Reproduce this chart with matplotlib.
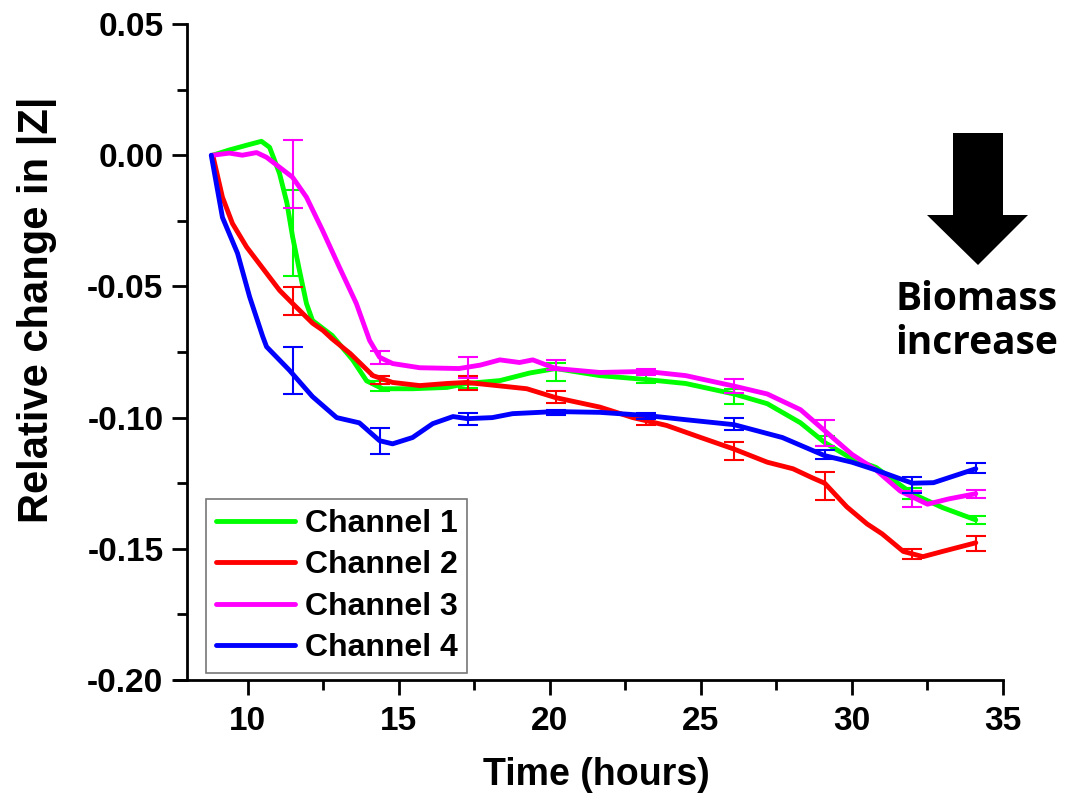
import numpy as np
import matplotlib.pyplot as plt
from matplotlib.patches import Polygon
from matplotlib.ticker import MultipleLocator, FuncFormatter

plt.rcParams["font.family"] = ["Liberation Sans", "DejaVu Sans"]
plt.rcParams["font.weight"] = "bold"
plt.rcParams["axes.unicode_minus"] = False

# Channel traces (time in hours, relative change in |Z|)
t1 = [8.85, 9.4, 9.97, 10.46, 10.73, 11.06, 11.3, 11.49, 11.72, 11.95, 12.15, 12.8,
      13.48, 13.94, 14.47, 15.46, 16.6, 17.25, 18.35, 19.34, 20.2, 21.66, 23.2, 24.5,
      26.1, 27.2, 28.3, 29.1, 30.0, 30.8, 32.0, 33.0, 34.1]
y1 = [0.0, 0.002, 0.0038, 0.0053, 0.003, -0.007, -0.018, -0.031, -0.044, -0.0565, -0.063,
      -0.0687, -0.078, -0.086, -0.089, -0.089, -0.0885, -0.087, -0.0859, -0.083, -0.0813,
      -0.084, -0.0855, -0.087, -0.091, -0.0947, -0.102, -0.1095, -0.1157, -0.119, -0.129,
      -0.1343, -0.139]

t2 = [8.85, 9.17, 9.5, 9.97, 10.63, 11.06, 11.49, 12.15, 12.5, 12.8, 13.4, 14.15, 14.8,
      15.7, 16.6, 17.25, 18.25, 19.24, 20.2, 21.66, 22.75, 23.87, 25.0, 26.1, 27.2, 28.05,
      28.7, 29.1, 29.83, 30.5, 31.0, 31.7, 32.35, 33.0, 34.1]
y2 = [0.0, -0.016, -0.026, -0.035, -0.045, -0.0515, -0.0565, -0.064, -0.0668, -0.070,
      -0.0756, -0.084, -0.0866, -0.0878, -0.087, -0.0866, -0.0878, -0.089, -0.0924, -0.096,
      -0.100, -0.103, -0.1076, -0.112, -0.117, -0.1195, -0.123, -0.125, -0.134, -0.1405,
      -0.1443, -0.151, -0.153, -0.151, -0.1477]

t3 = [8.85, 9.4, 9.83, 10.3, 10.63, 11.06, 11.49, 11.95, 12.48, 13.04, 13.6, 14.04, 14.37,
      14.8, 15.7, 17.0, 17.7, 18.35, 19.0, 19.44, 20.2, 21.66, 23.2, 24.5, 26.1, 27.2, 28.3,
      29.1, 30.0, 30.8, 31.6, 32.5, 33.2, 34.1]
y3 = [0.0, 0.0008, 0.0, 0.001, -0.0008, -0.0046, -0.0084, -0.016, -0.0286, -0.0427, -0.0565,
      -0.0706, -0.077, -0.0794, -0.081, -0.0813, -0.080, -0.078, -0.079, -0.078, -0.0813,
      -0.0828, -0.0824, -0.084, -0.088, -0.091, -0.097, -0.105, -0.114, -0.120, -0.128,
      -0.133, -0.131, -0.129]

t4 = [8.8, 9.17, 9.67, 10.07, 10.5, 10.63, 11.39, 12.15, 12.95, 13.7, 14.37, 14.8, 15.46,
      16.13, 16.8, 17.28, 18.1, 18.77, 20.2, 21.66, 23.2, 24.5, 26.1, 27.7, 29.1, 30.0, 30.8,
      32.0, 32.7, 34.1]
y4 = [0.0, -0.0237, -0.0374, -0.054, -0.069, -0.073, -0.082, -0.092, -0.100, -0.102, -0.1088,
      -0.110, -0.1076, -0.1023, -0.0996, -0.1004, -0.100, -0.0985, -0.0977, -0.098, -0.0992,
      -0.1008, -0.1027, -0.1076, -0.1145, -0.117, -0.120, -0.125, -0.1248, -0.1195]

# Error bars (shared sampling times)
t_err = [11.5, 14.4, 17.3, 20.2, 23.2, 26.1, 29.1, 32.0, 34.1]
m1 = [-0.0298, -0.088, -0.0866, -0.0826, -0.085, -0.092, -0.109, -0.129, -0.139]
e1 = [0.0164, 0.002, 0.002, 0.0033, 0.002, 0.003, 0.002, 0.002, 0.0015]
m2 = [-0.0557, -0.0857, -0.0868, -0.092, -0.1015, -0.1126, -0.126, -0.152, -0.148]
e2 = [0.0053, 0.0014, 0.0025, 0.0023, 0.0015, 0.0034, 0.0054, 0.002, 0.0027]
m3 = [-0.0073, -0.077, -0.081, -0.080, -0.0825, -0.088, -0.106, -0.131, -0.129]
e3 = [0.013, 0.0025, 0.004, 0.002, 0.0012, 0.0027, 0.005, 0.003, 0.0015]
m4 = [-0.082, -0.1088, -0.1004, -0.098, -0.0993, -0.1023, -0.114, -0.1258, -0.1193]
e4 = [0.009, 0.005, 0.0023, 0.001, 0.0012, 0.0023, 0.0017, 0.003, 0.002]

labels = ["Channel 1", "Channel 2", "Channel 3", "Channel 4"]
colors = ["#00FF00", "#FF0000", "#FF00FF", "#0000FF"]

W, H = 1074, 797
fig = plt.figure(figsize=(W / 100, H / 100), dpi=100)
ax = fig.add_axes([175 / W, 1 - 680 / H, (1003 - 175) / W, (680 - 24) / H])

series = [(t1, y1, m1, e1), (t2, y2, m2, e2), (t3, y3, m3, e3), (t4, y4, m4, e4)]
for (t, y, m, e), lab, c in zip(series, labels, colors):
    ax.plot(t, y, color=c, lw=3.5, label=lab, solid_capstyle="round",
            solid_joinstyle="round")
    ax.errorbar(t_err, m, yerr=e, fmt="none", ecolor=c, elinewidth=1.5,
                capsize=7, capthick=1.5)

ax.set_xlim(7.6, 35)
ax.set_ylim(-0.20, 0.05)
ax.spines["top"].set_visible(False)
ax.spines["right"].set_visible(False)
ax.spines["left"].set_position(("data", 8))
for s in ("left", "bottom"):
    ax.spines[s].set_linewidth(2)

ax.set_xticks([10, 15, 20, 25, 30, 35])
ax.xaxis.set_minor_locator(MultipleLocator(2.5))
ax.yaxis.set_major_locator(MultipleLocator(0.05))
ax.yaxis.set_minor_locator(MultipleLocator(0.025))
ax.yaxis.set_major_formatter(FuncFormatter(lambda v, p: f"{v:.2f}"))
ax.tick_params(which="major", direction="out", length=11, width=2, labelsize=24)
ax.tick_params(which="minor", direction="out", length=7, width=2)
ax.tick_params(axis="x", pad=8)
ax.tick_params(axis="y", pad=6)

fig.text(596 / W, 1 - 775 / H, "Time (hours)", fontsize=27, fontweight="bold",
         ha="center", va="center")
fig.text(37 / W, 1 - 310 / H, "Relative change in |Z|", fontsize=30, fontweight="bold",
         ha="center", va="center", rotation=90)

leg = ax.legend(loc="lower left", bbox_to_anchor=(206 / W, 1 - 673 / H),
                bbox_transform=fig.transFigure, borderaxespad=0, fontsize=23,
                frameon=True, fancybox=False, handlelength=2.5, handletextpad=0.3,
                labelspacing=0.36, borderpad=0.3)
leg.get_frame().set_edgecolor("#555555")
leg.get_frame().set_linewidth(1.2)
for line in leg.get_lines():
    line.set_linewidth(3.5)

# Biomass arrow and caption
arrow_px = [(953, 133), (1003, 133), (1003, 215), (1028, 215), (978, 265),
            (927, 215), (953, 215)]
arrow = Polygon([(x / W, 1 - y / H) for x, y in arrow_px], closed=True,
                transform=fig.transFigure, facecolor="black", edgecolor="none")
fig.patches.append(arrow)
fig.text(977 / W, 1 - 299 / H, "Biomass", fontsize=28, fontweight="bold",
         family=["Open Sans", "DejaVu Sans"], ha="center", va="center")
fig.text(977 / W, 1 - 343 / H, "increase", fontsize=28, fontweight="bold",
         family=["Open Sans", "DejaVu Sans"], ha="center", va="center")

fig.savefig("out.png", dpi=100)
